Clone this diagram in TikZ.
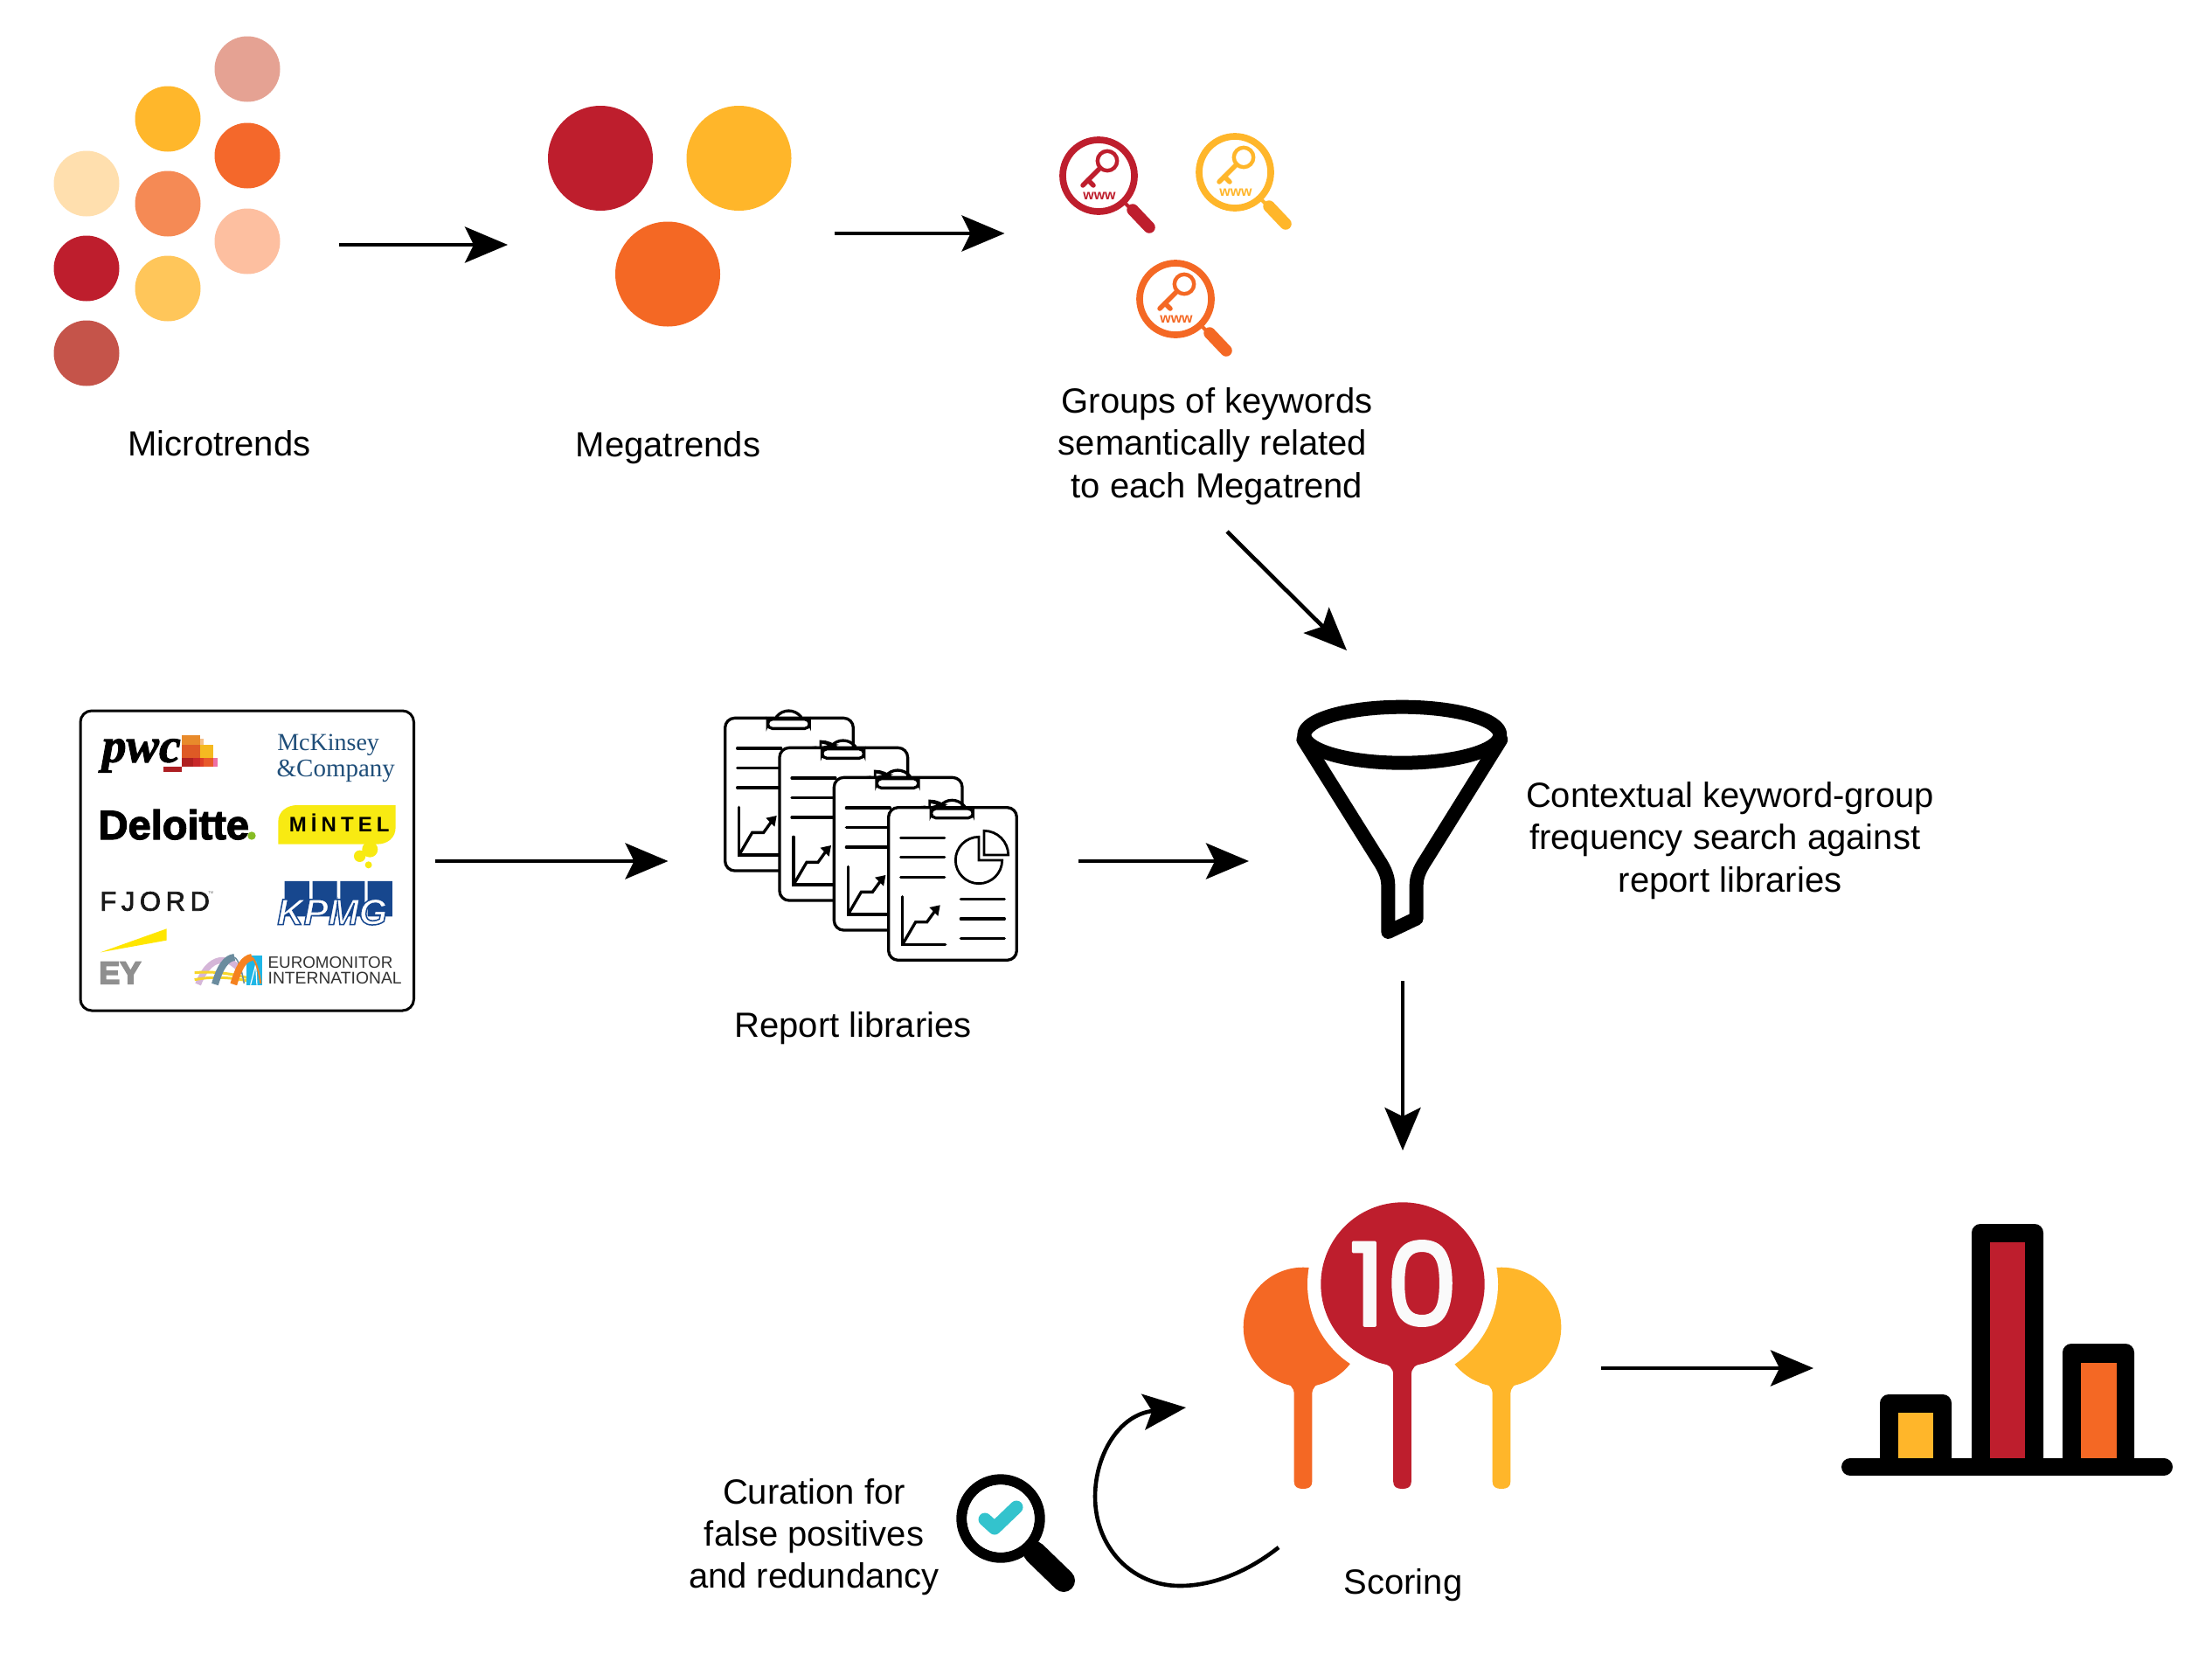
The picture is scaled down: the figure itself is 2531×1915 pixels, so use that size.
\documentclass[tikz,border=0pt]{standalone}
\usepackage{fontspec}
\usetikzlibrary{arrows.meta}
\setmainfont{Liberation Sans}
\newfontfamily\logoserif{Liberation Serif}
\newfontfamily\mintelfont[LetterSpace=21]{Liberation Sans}
\newfontfamily\fjordfont[LetterSpace=18]{Liberation Sans}
\newfontfamily\numfont{Poppins}
\definecolor{mred}{HTML}{BE1E2D}
\definecolor{myel}{HTML}{FFB62A}
\definecolor{mora}{HTML}{F46824}
\definecolor{mintely}{HTML}{F8EA12}
\definecolor{kpmgb}{HTML}{17478E}
\definecolor{mckb}{HTML}{1F4E79}
\newcommand\strokedtext[2]{\special{pdf:code q #1}#2\special{pdf:code Q}}
\newcommand\balloonstem[3]{%
  \fill[#3] (-28,0) .. controls (-14,3) and (-10.3,6) .. (-10.3,16) -- (-10.3,#2-8)
    .. controls (-10.3,#2-2) and (-6,#2) .. (0,#2) .. controls (6,#2) and (10.3,#2-2) .. (10.3,#2-8)
    -- (10.3,16) .. controls (10.3,6) and (14,3) .. (28,0) -- cycle;}
\tikzset{
  every node/.style={inner sep=0pt,outer sep=0pt},
  label text/.style={font=\fontsize{40}{48.3}\selectfont,align=center,text=black,anchor=center},
  flow/.style={line width=4.6pt,draw=black,-{Stealth[length=49pt,width=41pt,inset=10pt]}},
  pics/keymag/.style={code={
    \draw[#1,line width=7.7pt] (0,0) circle[radius=41];
    \draw[#1,line width=4pt] (31,32) -- (38,39);
    \draw[#1,line width=13.5pt,line cap=round] (39,39) -- (58,59);
    \draw[#1,line width=4.4pt] (10,-17) circle[radius=11.2];
    \draw[#1,line width=5.5pt,line cap=round] (2,-9) -- (-18,11);
    \draw[#1,line width=5.5pt,line cap=round] (-12,5) -- (-6,11);
    \node[text=#1,font=\fontsize{16}{16}\bfseries\selectfont] (-www) at (1,23) {www};
  }},
  pics/reporttick/.style={code={
    \begin{scope}[x=0.3333pt,y=-0.3333pt]
      \draw[line width=3pt] (142,-18) -- (187,-8) -- (150,2);
    \end{scope}
  }},
  pics/reportboard/.style={code={
    \begin{scope}[x=0.3333pt,y=-0.3333pt,line width=3.3pt,line cap=round,draw=black]
      \draw (178,-2) .. controls (200,-30) and (240,-30) .. (263,-2);
      \draw[fill=white,rounded corners=11pt] (2,2) rectangle (442,526);
      \draw[fill=white,rounded corners=5.5pt] (148,6) rectangle (292,38);
      \draw (44,106) -- (194,106) (44,173) -- (194,173) (44,241) -- (194,241);
      \draw[line join=miter] (50,308) -- (50,472) -- (197,472);
      \draw (50,472) -- (95,395) -- (134,395) -- (170,345);
      \fill (179,337) -- (142,345) -- (172,375) -- cycle;
      \draw (250,317) -- (400,317) (250,384) -- (400,384) (250,451) -- (400,451);
      \draw[line width=2.8pt,line join=miter] (312,103) arc[start angle=270,end angle=0,radius=80] -- (312,183) -- cycle;
      \draw[line width=2.8pt,line join=miter] (330,82) arc[start angle=270,end angle=360,radius=83] -- (330,165) -- cycle;
    \end{scope}
  }},
}
\begin{document}
\begin{tikzpicture}[x=1pt,y=-1pt]
\useasboundingbox (0,0) rectangle (2531,1915);
\fill[white] (0,0) rectangle (2531,1915);

% Microtrends
\foreach \cx/\cy/\cc in {283/79/E5A293,192/136/FFB72B,283/178/F4682B,99/210/FFDFAE,192/233/F58A55,283/276/FDBFA0,99/307/BE1E2D,192/330/FFC65A,99/404/C5544A}{
  \definecolor{dotc}{HTML}{\cc}
  \fill[dotc] (\cx,\cy) circle[radius=37.5];
}
\node[label text] (microtext) at (251,507.5) {Microtrends};

% Megatrends
\fill[mred] (687,181) circle[radius=60];
\fill[myel] (845.5,181) circle[radius=60];
\fill[mora] (764,313.5) circle[radius=60];
\node[label text] (megatext) at (764.5,512) {Megatrends};

% Keyword magnifiers
\pic (mgA) at (1257,201) {keymag=mred};
\pic (mgB) at (1413,197) {keymag=myel};
\pic (mgC) at (1345,342) {keymag=mora};
\node[label text] (grouptext) at (1392.5,510.5) {Groups of keywords\\semantically related\rule{10pt}{0pt}\\to each Megatrend};

% Logos box
\draw[line width=3pt,rounded corners=13pt,fill=white] (92,813) rectangle (473.5,1156);
\begin{scope}[shift={(70,790)},x=0.3333pt,y=-0.3333pt]
  % pwc
  \node[anchor=base west,font=\logoserif\fontsize{56}{56}\bfseries\itshape\selectfont] (pwclogo) at (140,245) {\strokedtext{0 0 0 rg 0 0 0 RG 2 Tr 1 w}{pwc}};
  \fill[color={rgb,255:red,232;green,138;blue,43}] (415,152) rectangle (478,185);
  \fill[color={rgb,255:red,245;green,192;blue,138}] (478,165) rectangle (490,185);
  \fill[color={rgb,255:red,245;green,185;blue,33}] (478,185) rectangle (522,232);
  \fill[color={rgb,255:red,222;green,90;blue,37}] (415,185) rectangle (478,232);
  \fill[color={rgb,255:red,176;green,32;blue,32}] (415,232) rectangle (452,262);
  \fill[color={rgb,255:red,200;green,40;blue,42}] (452,232) rectangle (478,262);
  \fill[color={rgb,255:red,221;green,60;blue,37}] (478,232) rectangle (490,262);
  \fill[color={rgb,255:red,232;green,89;blue,42}] (490,232) rectangle (522,262);
  \fill[color={rgb,255:red,238;green,111;blue,165}] (522,232) rectangle (538,262);
  \fill[color={rgb,255:red,173;green,31;blue,35}] (352,262) rectangle (414,278);
  % McKinsey
  \node[anchor=base west,text=mckb,font=\logoserif\fontsize{28}{28}\selectfont] (mckA) at (742,205) {McKinsey};
  \node[anchor=base west,text=mckb,font=\logoserif\fontsize{29}{29}\selectfont] (mckB) at (740,295) {\&Company};
  % Deloitte
  \node[anchor=base west,font=\fontsize{47}{47}\bfseries\selectfont] (deloitte) at (128,510) {\strokedtext{0 0 0 rg 0 0 0 RG 2 Tr 1.2 w}{Deloitte}};
  \fill[color={rgb,255:red,134;green,188;blue,37}] (654,498) circle[radius=14];
  % Mintel
  \fill[mintely] (745,527) -- (745,450) .. controls (745,415) and (775,393) .. (810,393) -- (1148,393) -- (1148,470) .. controls (1148,505) and (1120,527) .. (1085,527) -- cycle;
  \fill[mintely] (1025,568) circle[radius=20] (1060,545) circle[radius=27] (1055,598) circle[radius=12];
  \node[anchor=base west,font=\mintelfont\fontsize{24}{24}\bfseries\selectfont] (mintel) at (783,485) {MİNTEL};
  % FJORD
  \node[anchor=base west,font=\fjordfont\fontsize{31}{31}\selectfont] (fjord) at (133,755) {\strokedtext{0.1 0.1 0.1 rg 0.1 0.1 0.1 RG 2 Tr 0.7 w}{FJORD}};
  \node[anchor=base west,text=black!60,font=\fontsize{4}{4}\selectfont] (fjordtm) at (505,697) {TM};
  % KPMG
  \fill[kpmgb] (767,654) rectangle (852,775) (863,654) rectangle (947,775) (958,654) rectangle (1042,775) (1052,654) rectangle (1137,775);
  \node[anchor=base west,font=\fontsize{42}{42}\bfseries\itshape\selectfont] (kpmg) at (742,803) {\strokedtext{1 1 1 rg 0.09 0.28 0.56 RG 2 Tr 1.5 w}{KPMG}};
  % EY
  \fill[color={rgb,255:red,255;green,230;blue,0}] (135,898) -- (362,817) -- (362,857) -- cycle;
  \node[anchor=base west,font=\fontsize{36}{36}\bfseries\selectfont] (ey) at (130,1006) {\strokedtext{0.56 0.56 0.56 rg 0.56 0.56 0.56 RG 2 Tr 1.6 w}{EY}};
  % Euromonitor
  \draw[color={rgb,255:red,213;green,182;blue,216},line width=7pt] (470,1008) .. controls (495,945) and (525,925) .. (555,925) .. controls (580,925) and (600,940) .. (612,958);
  \draw[color={rgb,255:red,247;green,213;blue,42},line width=3pt] (458,968) .. controls (520,962) and (600,970) .. (688,1000);
  \draw[color={rgb,255:red,247;green,213;blue,42},line width=3pt] (458,992) .. controls (530,978) and (600,985) .. (688,1006);
  \draw[color={rgb,255:red,107;green,140;blue,158},line width=8pt] (528,1008) .. controls (545,950) and (565,918) .. (595,915);
  \draw[color={rgb,255:red,107;green,140;blue,158},line width=1.5pt] (595,915) .. controls (610,925) and (620,960) .. (628,1005);
  \fill[color={rgb,255:red,31;green,182;blue,230}] (635,910) rectangle (690,1010);
  \draw[white,line width=1.2pt] (650,1010) -- (668,940) -- (672,1010);
  \draw[color={rgb,255:red,245;green,130;blue,32},line width=8pt] (592,1008) .. controls (610,950) and (625,920) .. (655,915);
  \draw[color={rgb,255:red,245;green,130;blue,32},line width=2pt] (655,915) .. controls (670,930) and (680,970) .. (685,1005);
  \node[anchor=base west,text=black!80,font=\fontsize{18.8}{18.8}\selectfont] (euroA) at (710,952) {EUROMONITOR};
  \node[anchor=base west,text=black!80,font=\fontsize{19.3}{19.3}\selectfont] (euroB) at (710,1008) {INTERNATIONAL};
\end{scope}

% Report libraries
\pic (rpA) at (829,820.7) {reportboard};
\pic (tkB) at (891.3,854.7) {reporttick};
\pic (rpB) at (891.3,854.7) {reportboard};
\pic (tkC) at (953.7,888.7) {reporttick};
\pic (rpC) at (953.7,888.7) {reportboard};
\pic (tkD) at (1016,923) {reporttick};
\pic (rpD) at (1016,923) {reportboard};
\node[label text] (reporttext) at (976,1176.5) {Report libraries};

% Funnel
\begin{scope}[shift={(1470,780)},x=0.3333pt,y=-0.3333pt,line width=16pt,line join=round,line cap=round]
  \draw (403,182) ellipse[x radius=336,y radius=96];
  \draw (64,198) -- (322,610) .. controls (345,645) and (355,670) .. (355,700) -- (355,858) -- (452,812) -- (452,700) .. controls (452,670) and (462,645) .. (484,612) -- (742,198);
\end{scope}
\node[label text] (contexttext) at (1979.5,961.5) {Contextual keyword-group\\frequency search against\rule{11.5pt}{0pt}\\report libraries};

% Scoring balloons
\fill[mora] (1491,1518) circle[radius=68.3];
\fill[myel] (1718,1518) circle[radius=68.3];
\fill[white] (1605,1469) circle[radius=109];
\begin{scope}[shift={(1491,1580)}]\balloonstem{0}{123}{mora}\end{scope}
\begin{scope}[shift={(1718,1580)}]\balloonstem{0}{123}{myel}\end{scope}
\fill[mred] (1605,1469) circle[radius=93.7];
\begin{scope}[shift={(1604.5,1558)}]\balloonstem{0}{145}{mred}\end{scope}
\node[anchor=center,font=\numfont\fontsize{132}{132}\selectfont] (score) at (1606,1468) {\strokedtext{0.98 0.98 0.98 rg 0.98 0.98 0.98 RG 2 Tr 3 w 1 J 1 j}{10}};
\node[label text] (scoretext) at (1605.5,1813) {Scoring};

% Curation
\node[label text] (curatetext) at (931.5,1758) {Curation for\\false positives\\and redundancy};
\draw[line width=12pt] (1145,1737) circle[radius=44.7];
\draw[line width=26pt,line cap=round] (1184,1776) -- (1217,1808);
\fill[white] (1145,1737) circle[radius=38.6];
\draw[color={rgb,255:red,51;green,195;blue,205},line width=15pt,line cap=round,line join=round] (1127,1738) -- (1138,1748) -- (1163,1724);

% Bar chart
\fill[rounded corners=10pt] (2151,1680) -- (2151,1595) -- (2233,1595) -- (2233,1680) -- cycle;
\fill[rounded corners=10pt] (2256,1680) -- (2256,1400) -- (2338,1400) -- (2338,1680) -- cycle;
\fill[rounded corners=10pt] (2360,1680) -- (2360,1537) -- (2442,1537) -- (2442,1680) -- cycle;
\fill[myel] (2172,1616) rectangle (2212,1668);
\fill[mred] (2277,1421) rectangle (2317,1668);
\fill[mora] (2381,1559) rectangle (2422,1668);
\draw[line width=20pt,line cap=round] (2117,1678) -- (2476,1678);

% Connectors
\coordinate (a1s) at (388,280); \coordinate (a1e) at (581,280);
\coordinate (a2s) at (954.5,267); \coordinate (a2e) at (1149.5,267);
\coordinate (a3s) at (1404,608); \coordinate (a3e) at (1541,744);
\coordinate (a4s) at (498,985); \coordinate (a4e) at (764.5,985);
\coordinate (a5s) at (1234,985); \coordinate (a5e) at (1429,985);
\coordinate (a6s) at (1605,1122); \coordinate (a6e) at (1605,1316);
\coordinate (a7s) at (1832,1565); \coordinate (a7e) at (2075,1565);
\coordinate (c1s) at (1463,1770); \coordinate (c1e) at (1357,1610);
\draw[flow] (a1s) -- (a1e);
\draw[flow] (a2s) -- (a2e);
\draw[flow] (a3s) -- (a3e);
\draw[flow] (a4s) -- (a4e);
\draw[flow] (a5s) -- (a5e);
\draw[flow] (a6s) -- (a6e);
\draw[flow] (a7s) -- (a7e);
\draw[flow] (c1s) .. controls (1425,1800) and (1385,1814) .. (1350,1814) .. controls (1295,1814) and (1253,1770) .. (1253,1712) .. controls (1253,1665) and (1280,1618) .. (c1e);
\end{tikzpicture}
\end{document}
